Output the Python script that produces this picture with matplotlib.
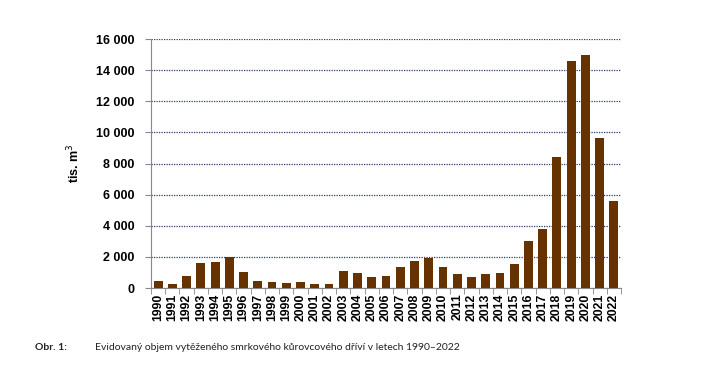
import matplotlib
matplotlib.use("Agg")
import matplotlib.pyplot as plt
from matplotlib.ticker import FuncFormatter, FixedLocator
import numpy as np

# data
years = list(range(1990, 2023))
values = [450, 280, 790, 1610, 1650, 1970, 1030, 430, 390, 320, 360, 240, 250,
          1070, 990, 690, 750, 1350, 1720, 1910, 1330, 880, 690, 880, 970, 1520,
          3050, 3800, 8410, 14570, 14980, 9610, 5620]

plt.rcParams['font.family'] = ['Liberation Sans', 'DejaVu Sans']

fig = plt.figure(figsize=(7.11, 3.79), dpi=100)
ax = fig.add_axes([0.2124, 0.240, 0.661, 0.657])

x = np.arange(len(years))
ax.bar(x, values, width=0.62, color="#663300", zorder=3)

ax.set_xlim(-0.5, len(years) - 0.5)
ax.set_ylim(0, 16000)
ax.set_yticks(np.arange(0, 16001, 2000))
ax.yaxis.set_major_formatter(FuncFormatter(lambda v, p: f"{int(v):,}".replace(",", " ")))
ax.grid(axis="y", linestyle=(0, (1, 1)), color="#2a3f6a", linewidth=0.9, zorder=0)

ax.set_xticks(x)
ax.set_xticklabels([str(y) for y in years], rotation=90, fontsize=8.8, fontweight="bold")
ax.tick_params(axis="x", length=0, pad=4)
ax.xaxis.set_minor_locator(FixedLocator(np.arange(-0.5, len(years), 1)))
ax.tick_params(axis="x", which="minor", length=4, color="#888888")
for lab in ax.get_yticklabels():
    lab.set_fontweight("bold")
ax.tick_params(axis="y", labelsize=9, length=4, color="#888888", pad=8)

for s in ["top", "right"]:
    ax.spines[s].set_visible(False)
ax.spines["left"].set_color("#888888")
ax.spines["bottom"].set_color("#888888")

ax.set_ylabel("tis. m$^3$", fontsize=9, fontweight="bold", labelpad=10)

# legende
fig.text(35 / 711, 1 - 347 / 379, "Obr. 1:", fontsize=7.5, fontweight="bold",
         family=["Lato", "DejaVu Sans"], va="center", color="#222222")
fig.text(95 / 711, 1 - 347 / 379,
         "Evidovaný objem vytěženého smrkového kůrovcového dříví v letech 1990–2022",
         fontsize=7.5, family=["Lato", "DejaVu Sans"], va="center", color="#222222")

fig.savefig("out.png", dpi=100)
